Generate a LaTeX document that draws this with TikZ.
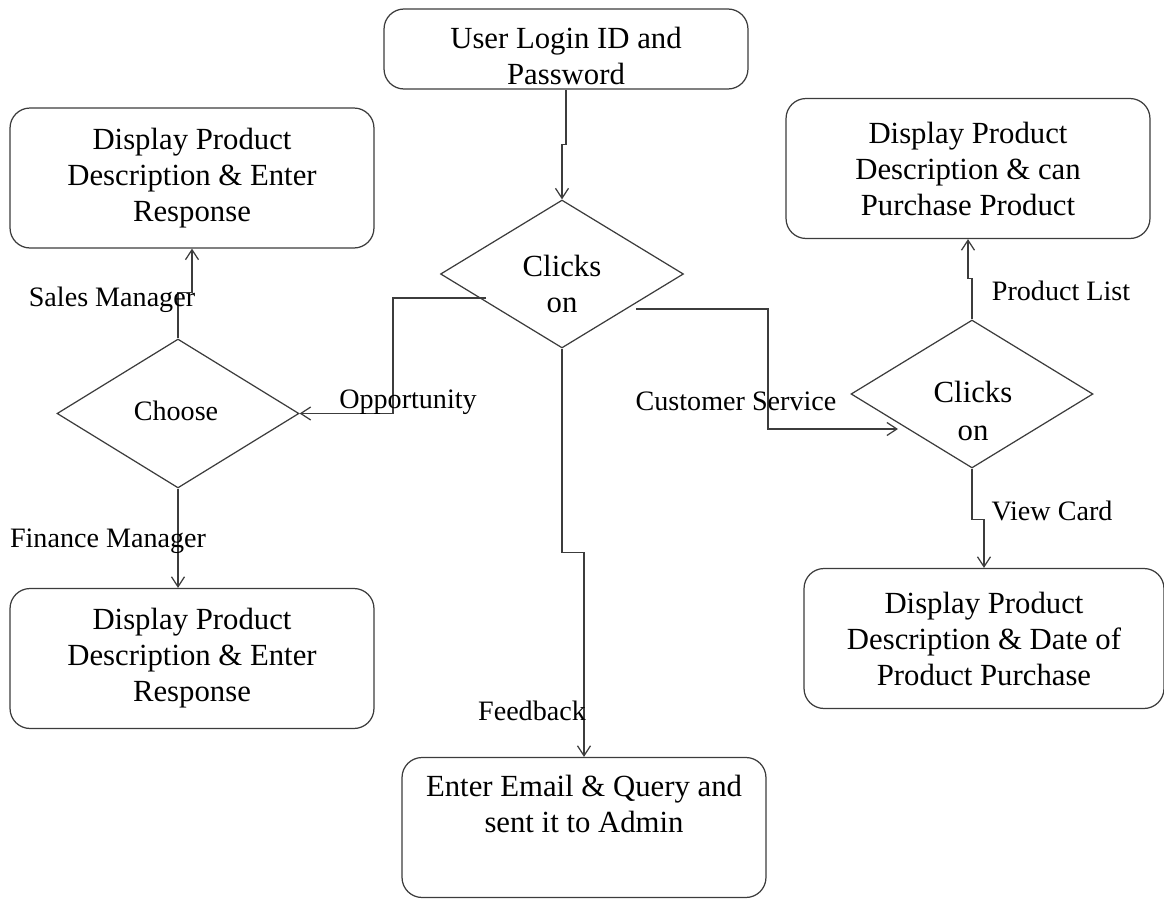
\documentclass[tikz,border=0pt]{standalone}
\usepackage{fontspec}
\setmainfont{Liberation Serif}
\usetikzlibrary{shapes.geometric,arrows.meta}

\definecolor{linegray}{HTML}{3C3C3C}

\tikzset{
  box/.style={draw=linegray, line width=0.7pt, rounded corners=0.4cm,
    rectangle, minimum width=7.28cm, minimum height=2.8cm, align=center,
    inner sep=0pt, font=\fontsize{17.5}{20.5}\selectfont},
  decision/.style={draw=linegray, line width=0.7pt, diamond,
    inner sep=0pt},
  inner/.style={align=center, inner sep=0pt,
    font=\fontsize{17.5}{20.5}\selectfont},
  lbl/.style={font=\fontsize{16}{19}\selectfont, inner sep=0pt},
  arr/.style={draw=linegray, line width=0.7pt,
    -{Straight Barb[length=2mm,width=2.6mm]}},
}

\begin{document}
\begin{tikzpicture}[x={(0.02cm,0)}, y={(0,-0.02cm)}]
  \useasboundingbox (0,0) rectangle (1164,899);

  % boxes
  \node[box, minimum height=1.6cm] (login) at (566,49) {};
  \node[inner] (logintxt) at (566,56) {User Login ID and\\Password};
  \node[box] (sales) at (192,178)
    {Display Product\\Description \& Enter\\Response};
  \node[box] (fin) at (192,658.5)
    {Display Product\\Description \& Enter\\Response};
  \node[box] (fb) at (584,827.5)
    {Enter Email \& Query and\\sent it to Admin\\\strut};
  \node[box] (buy) at (968,168.5)
    {Display Product\\Description \& can\\Purchase Product};
  \node[box, minimum width=7.2cm] (card) at (984,638.5)
    {Display Product\\Description \& Date of\\Product Purchase};

  % decisions
  \node[decision, minimum width=4.86cm, minimum height=2.96cm] (c1) at (562,274) {};
  \node[inner] (c1txt) at (562,284) {Clicks\\on};
  \node[decision, minimum width=4.84cm, minimum height=2.98cm] (choose) at (178,413.5) {};
  \node[lbl] (choosetxt) at (176,411) {Choose};
  \node[decision, minimum width=4.84cm, minimum height=2.96cm] (c2) at (972,394) {};
  \node[inner, font=\fontsize{17.5}{22}\selectfont] (c2txt) at (973,411) {Clicks\\on};

  % free ends of the connectors
  \coordinate (oppstart) at ([shift={(-76,24)}]c1.center);
  \coordinate (csstart) at ([shift={(74,35)}]c1.center);
  \coordinate (csend) at ([shift={(-74,35)}]c2.center);

  % connectors
  \draw[arr] (login.south) -- ++(0,55) -- ++(-4,0) -- (c1.north);
  \draw[arr] (oppstart) -- ++(-93,0) |- (choose.east);
  \draw[arr] (csstart) -- ++(132,0) |- (csend);
  \draw[arr] (c1.south) -- ++(0,204) -| (fb.north);
  \draw[arr] (choose.north) -- ++(0,-46) -| (sales.south);
  \draw[arr] (choose.south) -- (choose.south |- fin.north);
  \draw[arr] (c2.north) -- ++(0,-41) -| (buy.south);
  \draw[arr] (c2.south) -- ++(0,51) -| (card.north);

  % connector labels
  \node[lbl] (lsales) at (112,300) {Sales Manager};
  \node[lbl] (lfin) at (108,541) {Finance Manager};
  \node[lbl] (lopp) at (408,402) {Opportunity};
  \node[lbl] (lcs) at (736,401) {Customer Service};
  \node[lbl] (lpl) at (1061,291) {Product List};
  \node[lbl] (lvc) at (1052,511) {View Card};
  \node[lbl] (lfb) at (532,711) {Feedback};
\end{tikzpicture}
\end{document}
